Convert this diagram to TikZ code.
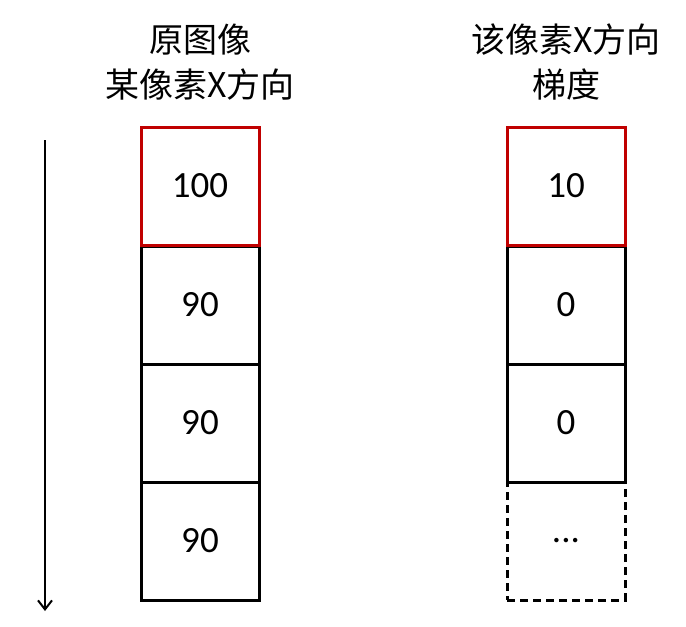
\documentclass[tikz,border=0pt]{standalone}
\usepackage{fontspec}
\setmainfont{Carlito}
\newfontfamily\cjk{Noto Sans CJK SC}
\usetikzlibrary{arrows.meta}
\begin{document}
\begin{tikzpicture}[x=1pt,y=-1pt,
  cell/.style={draw=black,line width=3pt,minimum width=118pt,minimum height=118pt,inner sep=0pt,font=\fontsize{37}{40}\selectfont},
  hl/.style={cell,draw={rgb,255:red,192;green,0;blue,0}},
  dcell/.style={cell,dashed,dash pattern=on 8pt off 5pt},
  ttl/.style={align=center,font=\cjk\fontsize{34}{45}\selectfont}]
\useasboundingbox (0,0) rectangle (686,627);
\node[cell] (l2) at (200,305) {90};
\node[cell] (l3) at (200,423) {90};
\node[cell] (l4) at (200,541) {90};
\node[hl] (l1) at (200,186) {100};
\node[cell] (r2) at (566,305) {0};
\node[cell] (r3) at (566,423) {0};
\node[dcell] (r4) at (566,541) {...};
\node[hl] (r1) at (566,186) {10};
\node[ttl] (tl) at (200,62) {原图像\\某像素X方向};
\node[ttl] (tr) at (566,62) {该像素X方向\\梯度};
\coordinate (a1) at (45,140);
\coordinate (a2) at (45,611);
\draw[line width=2pt,-{Straight Barb[length=9pt,width=14pt]}] (a1) -- (a2);
\end{tikzpicture}
\end{document}
